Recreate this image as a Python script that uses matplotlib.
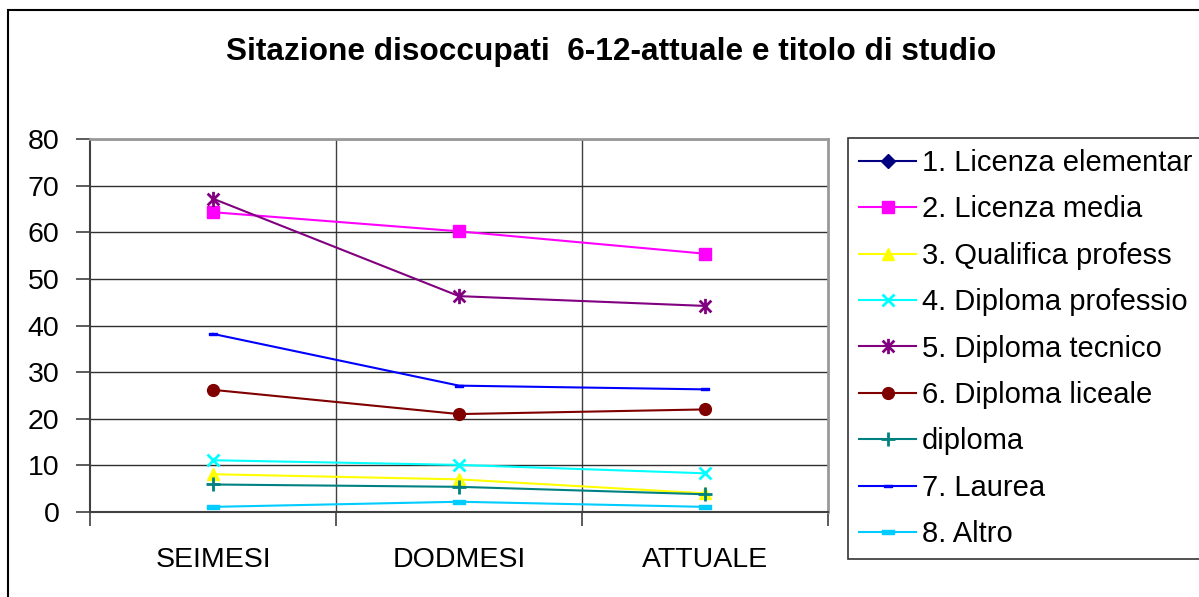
import matplotlib
matplotlib.use("Agg")
import matplotlib.pyplot as plt
import numpy as np
from matplotlib.path import Path
from matplotlib.patches import Rectangle

plt.rcParams['font.family'] = ['Liberation Sans', 'DejaVu Sans']

categories = ['SEIMESI', 'DODMESI', 'ATTUALE']
labels = ['1. Licenza elementar', '2. Licenza media', '3. Qualifica profess',
          '4. Diploma professio', '5. Diploma tecnico', '6. Diploma liceale',
          'diploma', '7. Laurea', '8. Altro']

licenza_elementare = [np.nan, np.nan, np.nan]
licenza_media = [64.3, 60.2, 55.4]
qualifica_profess = [8.1, 7.0, 4.0]
diploma_professio = [11.1, 10.1, 8.3]
diploma_tecnico = [67.2, 46.3, 44.2]
diploma_liceale = [26.2, 21.0, 22.0]
diploma = [5.9, 5.4, 3.8]
laurea = [38.2, 27.1, 26.3]
altro = [1.1, 2.2, 1.1]

values = [licenza_elementare, licenza_media, qualifica_profess, diploma_professio,
          diploma_tecnico, diploma_liceale, diploma, laurea, altro]

# excel style markers
star = Path([(-1, -1), (1, 1), (-1, 1), (1, -1), (0, -1.3), (0, 1.3)],
            [Path.MOVETO, Path.LINETO, Path.MOVETO, Path.LINETO, Path.MOVETO, Path.LINETO])
dash = Path([(-1, -0.35), (1, -0.35), (1, 0.35), (-1, 0.35), (-1, -0.35)],
            [Path.MOVETO, Path.LINETO, Path.LINETO, Path.LINETO, Path.CLOSEPOLY])

styles = [
    dict(color='#000080', marker='D', ms=7),
    dict(color='#FF00FF', marker='s', ms=8),
    dict(color='#FFFF00', marker='^', ms=9),
    dict(color='#00FFFF', marker='x', ms=9, mew=2),
    dict(color='#800080', marker=star, ms=11, mew=2),
    dict(color='#800000', marker='o', ms=8.5),
    dict(color='#008080', marker='+', ms=10, mew=2),
    dict(color='#0000FF', marker=dash, ms=6),
    dict(color='#00CCFF', marker=dash, ms=9),
]

fig = plt.figure(figsize=(11.99, 5.97), dpi=100)
ax = fig.add_axes([90 / 1199, 1 - 512 / 597, 738 / 1199, 373 / 597])

x = np.arange(len(categories)) + 0.5
for vals, lab, st in zip(values, labels, styles):
    ax.plot(x, vals, label=lab, lw=1.5, **st)

ax.set_xlim(0, 3)
ax.set_ylim(0, 80)
ax.set_yticks(np.arange(0, 81, 10))
ax.set_xticks(x)
ax.set_xticklabels(categories)
ax.set_xticks([0, 1, 2, 3], minor=True)
ax.tick_params(axis='x', which='major', length=0, pad=25, labelsize=20.5)
ax.tick_params(axis='x', which='minor', length=10, width=1.2, color='#404040', direction='out')
ax.tick_params(axis='y', length=10, width=1.2, color='#404040', direction='out', pad=12, labelsize=20.5)

ax.grid(axis='y', color='#303030', lw=1)
for xv in [1, 2]:
    ax.axvline(xv, color='#404040', lw=1, zorder=0.5)
ax.set_axisbelow(True)

for s in ['left', 'bottom']:
    ax.spines[s].set_color('#404040')
    ax.spines[s].set_linewidth(1.5)
for s in ['top', 'right']:
    ax.spines[s].set_color('#999999')
    ax.spines[s].set_linewidth(2)

fig.text(0.51, 1 - 52 / 597, 'Sitazione disoccupati  6-12-attuale e titolo di studio',
         ha='center', va='center', fontsize=22.8, fontweight='bold')

leg = fig.legend(loc='upper left', bbox_to_anchor=(848 / 1199, 1 - 138 / 597),
                 bbox_transform=fig.transFigure, borderaxespad=0, fontsize=21,
                 frameon=True, fancybox=False, edgecolor='black',
                 handlelength=1.95, handletextpad=0.2, labelspacing=0.63,
                 borderpad=0.38)
leg.get_frame().set_linewidth(1.2)

fig.patches.append(Rectangle((8 / 1199, -0.1), 1.2, 1.1 - 10 / 597,
                             transform=fig.transFigure, fill=False, lw=1.5,
                             edgecolor='black'))

fig.savefig('out.png', dpi=100)
